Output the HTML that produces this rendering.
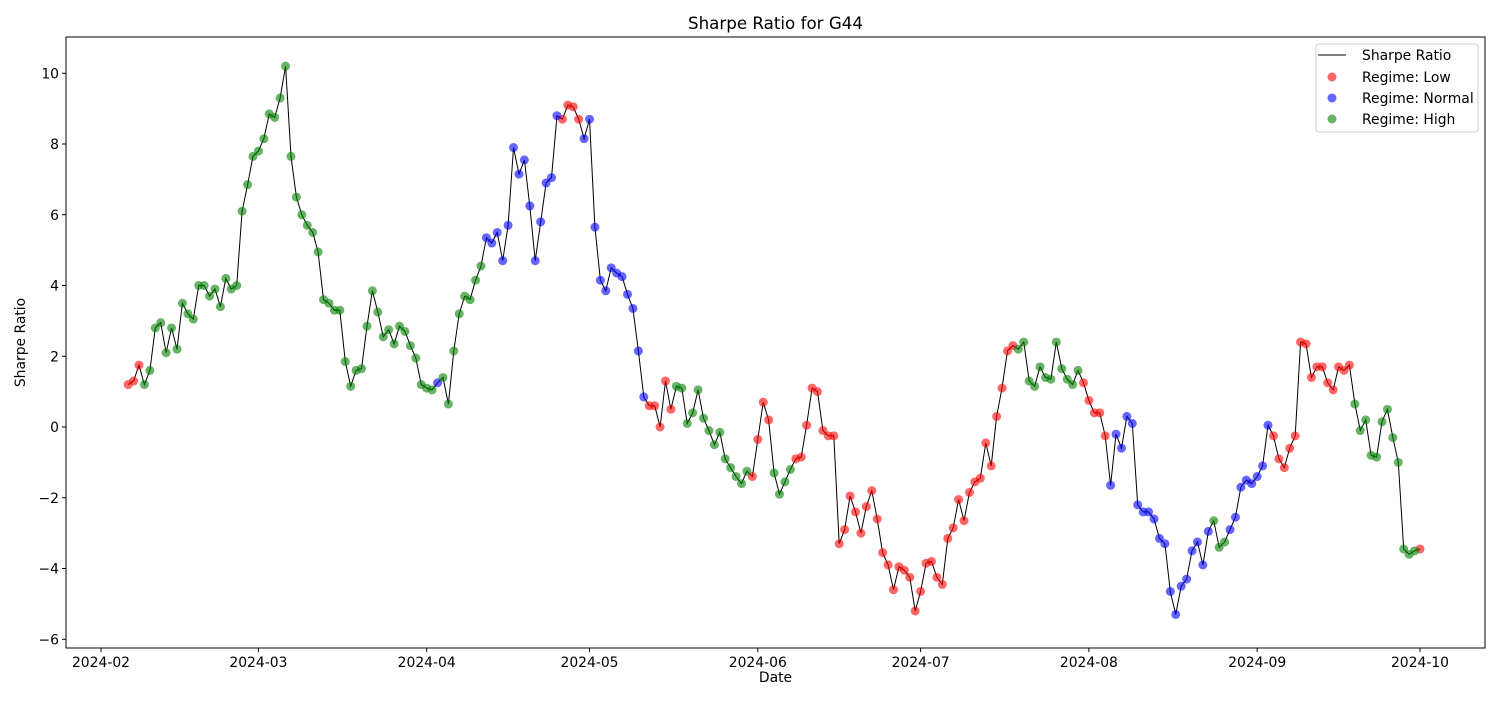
<!DOCTYPE html>
<html><head><meta charset="utf-8"><style>
body{margin:0;background:#fff}
svg text{font-family:"DejaVu Sans","Liberation Sans",sans-serif;fill:#000}
</style></head><body>
<svg id="c" width="1500" height="700" xmlns="http://www.w3.org/2000/svg"></svg>
<script>
const startDate = "2024-02-06";
const sharpeValues = [
// Feb 6-29
1.2,1.3,1.75,1.2,1.6,2.8,2.95,2.1,2.8,2.2,3.5,3.2,3.05,4.0,4.0,3.7,3.9,3.4,4.2,3.9,4.0,6.1,6.85,7.65,
// Mar
7.8,8.15,8.85,8.75,9.3,10.2,7.65,6.5,6.0,5.7,5.5,4.95,3.6,3.5,3.3,3.3,1.85,1.15,1.6,1.65,2.85,3.85,3.25,2.55,2.75,2.35,2.85,2.7,2.3,1.95,1.2,
// Apr
1.1,1.05,1.25,1.4,0.65,2.15,3.2,3.7,3.6,4.15,4.55,5.35,5.2,5.5,4.7,5.7,7.9,7.15,7.55,6.25,4.7,5.8,6.9,7.05,8.8,8.7,9.1,9.05,8.7,8.15,
// May
8.7,5.65,4.15,3.85,4.5,4.35,4.25,3.75,3.35,2.15,0.85,0.6,0.6,0.0,1.3,0.5,1.15,1.1,0.1,0.4,1.05,0.25,-0.1,-0.5,-0.15,-0.9,-1.15,-1.4,-1.6,-1.25,-1.4,
// Jun
-0.35,0.7,0.2,-1.3,-1.9,-1.55,-1.2,-0.9,-0.85,0.05,1.1,1.0,-0.1,-0.25,-0.25,-3.3,-2.9,-1.95,-2.4,-3.0,-2.25,-1.8,-2.6,-3.55,-3.9,-4.6,-3.95,-4.05,-4.25,-5.2,
// Jul
-4.65,-3.85,-3.8,-4.25,-4.45,-3.15,-2.85,-2.05,-2.65,-1.85,-1.55,-1.45,-0.45,-1.1,0.3,1.1,2.15,2.3,2.2,2.4,1.3,1.15,1.7,1.4,1.35,2.4,1.65,1.35,1.2,1.6,1.25,
// Aug
0.75,0.4,0.4,-0.25,-1.65,-0.2,-0.6,0.3,0.1,-2.2,-2.4,-2.4,-2.6,-3.15,-3.3,-4.65,-5.3,-4.5,-4.3,-3.5,-3.25,-3.9,-2.95,-2.65,-3.4,-3.25,-2.9,-2.55,-1.7,-1.5,-1.6,
// Sep
-1.4,-1.1,0.05,-0.25,-0.9,-1.15,-0.6,-0.25,2.4,2.35,1.4,1.7,1.7,1.25,1.05,1.7,1.6,1.75,0.65,-0.1,0.2,-0.8,-0.85,0.15,0.5,-0.3,-1.0,-3.45,-3.6,-3.5,
// Oct 1
-3.45];
const regimeCodes = (
"LLLHHHHHHHHHHHHHHHHHHHHH"+
"HHHHHHHHHHHHHHHHHHHHHHHHHHHHHHH"+
"HHNHHHHHHHHNNNNNNNNNNNNNNLLLLN"+
"NNNNNNNNNNNLLLLLHHHHHHHHHHHHHHL"+
"LLLHHHHLLLLLLLLLLLLLLLLLLLLLLL"+
"LLLLLLLLLLLLLLLLLLHHHHHHHHHHHHL"+
"LLLLNNNNNNNNNNNNNNNNNNNHHHNNNNN"+
"NNNLLLLLLLLLLLLLLLHHHHHHHHHHHH"+
"L").split("");
const yTicks = [-6,-4,-2,0,2,4,6,8,10];
const xTickLabels = ["2024-02","2024-03","2024-04","2024-05","2024-06","2024-07","2024-08","2024-09","2024-10"];
const regimeNames = {L:"Low",N:"Normal",H:"High"};
const regimeColors = {L:"#ff0000",N:"#0000ff",H:"#008000"};

const svg = document.getElementById('c');
const NS = "http://www.w3.org/2000/svg";
function mk(tag, attrs, parent){const e=document.createElementNS(NS,tag);for(const k in attrs)e.setAttribute(k,attrs[k]);(parent||svg).appendChild(e);return e;}
const L=66,R=1485,T=37,B=648;
const t0 = Date.UTC(2024,1,1);
const DAY=86400000;
const FS=13.9;
function xScale(ms){return 101 + (ms - t0)/DAY * (1319/243);}
function yScale(v){return 427 - v*35.375;}

const frame = mk('rect',{x:L,y:T,width:R-L,height:B-T,fill:'none',stroke:'#000','stroke-width':1});



yTicks.forEach(v=>{
  const y=yScale(v);
  const ln=mk('line',{x1:L-4,x2:L,y1:y,y2:y,stroke:'#000'});
  
  
  const tx=mk('text',{x:L-7,y:y+5,'text-anchor':'end','font-size':FS});
  tx.textContent=String(v).replace('-','\u2212');
  
  
});
xTickLabels.forEach(lbl=>{
  const p=lbl.split('-');
  const x=xScale(Date.UTC(+p[0],+p[1]-1,1));
  const ln=mk('line',{x1:x,x2:x,y1:B,y2:B+4,stroke:'#000'});
  
  
  const tx=mk('text',{x:x,y:B+19,'text-anchor':'middle','font-size':FS});
  tx.textContent=lbl;
  
  
});

const s=startDate.split('-');
const s0=Date.UTC(+s[0],+s[1]-1,+s[2]);
const pts=sharpeValues.map((v,i)=>[xScale(s0+i*DAY),yScale(v)]);
const line=mk('polyline',{points:pts.map(p=>p[0].toFixed(1)+','+p[1].toFixed(1)).join(' '),fill:'none',stroke:'#000','stroke-width':1});


['L','N','H'].forEach(r=>{
  const g=mk('g',{});
  
  
  pts.forEach((p,i)=>{
    if(regimeCodes[i]!==r)return;
    const c=mk('circle',{cx:p[0],cy:p[1],r:4.5,fill:regimeColors[r],'fill-opacity':0.6},g);
    
    
  });
});

const title=mk('text',{x:(L+R)/2,y:29,'text-anchor':'middle','font-size':16.7});
title.textContent='Sharpe Ratio for G44';


const xl=mk('text',{x:(L+R)/2,y:682,'text-anchor':'middle','font-size':FS});
xl.textContent='Date';


const yl=mk('text',{x:0,y:0,'text-anchor':'middle','font-size':FS,transform:'translate(25,'+((T+B)/2)+') rotate(-90)'});
yl.textContent='Sharpe Ratio';



const lg=mk('g',{});


mk('rect',{x:1316,y:44,width:162,height:88,rx:3,fill:'#fff',stroke:'#ccc'},lg);
const le0=mk('line',{x1:1318,x2:1346,y1:55,y2:55,stroke:'#000','stroke-width':1},lg);


const lt0=mk('text',{x:1362,y:60,'font-size':FS},lg);
lt0.textContent='Sharpe Ratio';


['L','N','H'].forEach((r,i)=>{
  const y=77+i*21;
  const c=mk('circle',{cx:1332,cy:y,r:4.5,fill:regimeColors[r],'fill-opacity':0.6},lg);
  
  
  const t=mk('text',{x:1362,y:y+5,'font-size':FS},lg);
  t.textContent='Regime: '+regimeNames[r];
  
  
});
</script>
</body></html>
